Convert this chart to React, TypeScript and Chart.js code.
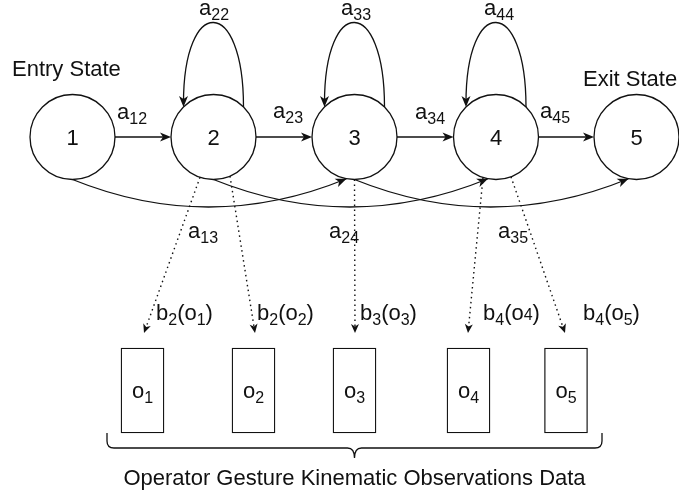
import React, { useEffect, useRef } from 'react';
import { Chart, registerables } from 'chart.js';
Chart.register(...registerables);

// ---------- data ----------
const STATES = ['1', '2', '3', '4', '5'];
const STATE_X = [72.5, 213.5, 354.5, 496, 636.5];
const STATE_Y = 137;

const FORWARD_FROM = [0, 1, 2, 3];
const FORWARD_TO = [1, 2, 3, 4];
const FORWARD_LABELS = ['a_12', 'a_23', 'a_34', 'a_45'];
const FORWARD_LABEL_X = [117, 273, 415, 540];
const FORWARD_LABEL_Y = [119, 118, 119, 118];

const LOOP_STATES = [1, 2, 3];
const LOOP_LABELS = ['a_22', 'a_33', 'a_44'];
const LOOP_LABEL_X = [199, 341, 484];
const LOOP_LABEL_Y = [15, 15, 15];
const LOOP_PEAK_Y = 23;

const SKIP_FROM = [0, 1, 2];
const SKIP_TO = [2, 3, 4];
const SKIP_LABELS = ['a_13', 'a_24', 'a_35'];
const SKIP_LABEL_X = [188, 329, 498];
const SKIP_LABEL_Y = [238, 238, 238];
const SKIP_LOW_Y = 207;

const OBS = ['o_1', 'o_2', 'o_3', 'o_4', 'o_5'];
const OBS_X = [142.5, 253.5, 354.5, 468.5, 566];
const OBS_TOP = 348;
const OBS_BOTTOM = 433;
const OBS_LABEL_Y = 398;

const EMIT_FROM = [1, 1, 2, 3, 3];
const EMIT_START_X = [200, 230, 354.5, 483, 511];
const EMIT_TIP_X = [144, 255, 355, 468, 565];
const EMIT_TIP_Y = 333;
const EMIT_LABELS = ['b_2(o_1)', 'b_2(o_2)', 'b_3(o_3)', 'b_4(o~4)', 'b_4(o_5)'];
const EMIT_LABEL_X = [156, 257, 360, 483, 583];
const EMIT_LABEL_Y = [320, 320, 320, 320, 320];

const ENTRY_TEXT = 'Entry State';
const EXIT_TEXT = 'Exit State';
const CAPTION = 'Operator Gesture Kinematic Observations Data';
const BRACE_LEFT = 107;
const BRACE_RIGHT = 602;
const BRACE_TOP = 433;
const BRACE_Y = 448;
const BRACE_TIP_Y = 458;

// ---------- style ----------
const R = 42.5;
const INK = '#111';
const FONT_FAMILY = "'Liberation Sans', Arial, Helvetica, sans-serif";
const MAIN = 22;
const SUB = 16;
const SUB_DY = 4.5;

type Seg = { t: string; sub: boolean; small: boolean };
function parseRich(s: string): Seg[] {
  const out: Seg[] = [];
  let i = 0;
  let buf = '';
  while (i < s.length) {
    const c = s[i];
    if (c === '_' || c === '~') {
      if (buf) { out.push({ t: buf, sub: false, small: false }); buf = ''; }
      let j = i + 1;
      let d = '';
      while (j < s.length && /[0-9]/.test(s[j])) { d += s[j]; j++; }
      out.push({ t: d, sub: c === '_', small: true });
      i = j;
    } else { buf += c; i++; }
  }
  if (buf) out.push({ t: buf, sub: false, small: false });
  return out;
}
function richWidth(ctx: CanvasRenderingContext2D, s: string) {
  let w = 0;
  for (const seg of parseRich(s)) {
    ctx.font = `${seg.small ? SUB : MAIN}px ${FONT_FAMILY}`;
    w += ctx.measureText(seg.t).width;
  }
  return w;
}
function drawRich(ctx: CanvasRenderingContext2D, s: string, x: number, y: number) {
  let cx = x;
  ctx.textAlign = 'left';
  ctx.textBaseline = 'alphabetic';
  for (const seg of parseRich(s)) {
    ctx.font = `${seg.small ? SUB : MAIN}px ${FONT_FAMILY}`;
    ctx.fillText(seg.t, cx, y + (seg.sub ? SUB_DY : 0));
    cx += ctx.measureText(seg.t).width;
  }
}
function arrowHead(ctx: CanvasRenderingContext2D, tx: number, ty: number, ang: number, len = 11, half = 4.5, notch = 3) {
  const dx = Math.cos(ang), dy = Math.sin(ang);
  const px = -dy, py = dx;
  ctx.beginPath();
  ctx.moveTo(tx, ty);
  ctx.lineTo(tx - len * dx + half * px, ty - len * dy + half * py);
  ctx.lineTo(tx - (len - notch) * dx, ty - (len - notch) * dy);
  ctx.lineTo(tx - len * dx - half * px, ty - len * dy - half * py);
  ctx.closePath();
  ctx.fill();
}

const diagramPlugin = {
  id: 'hmmDiagram',
  afterDatasetsDraw(chart: any) {
    const ctx: CanvasRenderingContext2D = chart.ctx;
    const xs = chart.scales.x, ys = chart.scales.y;
    const X = (v: number) => xs.getPixelForValue(v);
    const Y = (v: number) => ys.getPixelForValue(v);
    ctx.save();
    ctx.strokeStyle = INK;
    ctx.fillStyle = INK;
    ctx.lineWidth = 1.3;
    const onCircle = (i: number, x: number, below: boolean) => {
      const dx = x - STATE_X[i];
      const h = Math.sqrt(Math.max(0, R * R - dx * dx));
      return below ? STATE_Y + h : STATE_Y - h;
    };

    // forward transitions
    FORWARD_FROM.forEach((a, k) => {
      const b = FORWARD_TO[k];
      const x0 = X(STATE_X[a] + R), x1 = X(STATE_X[b] - R), y = Y(STATE_Y);
      ctx.beginPath(); ctx.moveTo(x0, y); ctx.lineTo(x1 - 6, y); ctx.stroke();
      arrowHead(ctx, x1, y, 0);
      drawRich(ctx, FORWARD_LABELS[k], X(FORWARD_LABEL_X[k]), Y(FORWARD_LABEL_Y[k]));
    });

    // self loops
    LOOP_STATES.forEach((s, k) => {
      const cx = STATE_X[s];
      const off = 30;
      const fy = onCircle(s, cx + off, false);
      const c = (8 * LOOP_PEAK_Y - 2 * fy) / 6;
      ctx.beginPath();
      ctx.moveTo(X(cx + off), Y(fy));
      ctx.bezierCurveTo(X(cx + off), Y(c), X(cx - off), Y(c), X(cx - off), Y(fy) - 4);
      ctx.stroke();
      arrowHead(ctx, X(cx - off), Y(fy), Math.PI / 2);
      drawRich(ctx, LOOP_LABELS[k], X(LOOP_LABEL_X[k]), Y(LOOP_LABEL_Y[k]));
    });

    // skip transitions
    SKIP_FROM.forEach((a, k) => {
      const b = SKIP_TO[k];
      const x0 = STATE_X[a], y0 = STATE_Y + R;
      const x2 = STATE_X[b] - 8, y2 = onCircle(b, x2, true);
      const cxp = (x0 + x2) / 2, cyp = 2 * SKIP_LOW_Y - (y0 + y2) / 2;
      ctx.beginPath();
      ctx.moveTo(X(x0), Y(y0));
      ctx.quadraticCurveTo(X(cxp), Y(cyp), X(x2), Y(y2));
      ctx.stroke();
      const ang = Math.atan2(Y(y2) - Y(cyp), X(x2) - X(cxp));
      arrowHead(ctx, X(x2), Y(y2), ang);
      drawRich(ctx, SKIP_LABELS[k], X(SKIP_LABEL_X[k]), Y(SKIP_LABEL_Y[k]));
    });

    // emissions (dotted)
    EMIT_FROM.forEach((s, k) => {
      const x0 = EMIT_START_X[k], y0 = onCircle(s, x0, true);
      const x1 = EMIT_TIP_X[k], y1 = EMIT_TIP_Y;
      const ang = Math.atan2(Y(y1) - Y(y0), X(x1) - X(x0));
      ctx.save();
      ctx.setLineDash([1.5, 3.5]);
      ctx.lineWidth = 1.4;
      ctx.beginPath();
      ctx.moveTo(X(x0), Y(y0));
      ctx.lineTo(X(x1) - 6 * Math.cos(ang), Y(y1) - 6 * Math.sin(ang));
      ctx.stroke();
      ctx.restore();
      arrowHead(ctx, X(x1), Y(y1), ang, 9, 4, 2.5);
      drawRich(ctx, EMIT_LABELS[k], X(EMIT_LABEL_X[k]), Y(EMIT_LABEL_Y[k]));
    });

    // state numbers
    STATES.forEach((s, i) => {
      const w = richWidth(ctx, s);
      drawRich(ctx, s, X(STATE_X[i]) - w / 2, Y(STATE_Y) + 8);
    });
    // observation labels
    OBS.forEach((o, i) => {
      const w = richWidth(ctx, o);
      drawRich(ctx, o, X(OBS_X[i]) - w / 2, Y(OBS_LABEL_Y));
    });

    // entry / exit
    drawRich(ctx, ENTRY_TEXT, X(12), Y(76));
    drawRich(ctx, EXIT_TEXT, X(583), Y(86));

    // brace
    const mid = (BRACE_LEFT + BRACE_RIGHT) / 2;
    ctx.beginPath();
    ctx.moveTo(X(BRACE_LEFT), Y(BRACE_TOP));
    ctx.lineTo(X(BRACE_LEFT), Y(BRACE_Y - 7));
    ctx.quadraticCurveTo(X(BRACE_LEFT), Y(BRACE_Y), X(BRACE_LEFT + 7), Y(BRACE_Y));
    ctx.lineTo(X(mid - 7), Y(BRACE_Y));
    ctx.quadraticCurveTo(X(mid), Y(BRACE_Y), X(mid), Y(BRACE_TIP_Y));
    ctx.quadraticCurveTo(X(mid), Y(BRACE_Y), X(mid + 7), Y(BRACE_Y));
    ctx.lineTo(X(BRACE_RIGHT - 7), Y(BRACE_Y));
    ctx.quadraticCurveTo(X(BRACE_RIGHT), Y(BRACE_Y), X(BRACE_RIGHT), Y(BRACE_Y - 7));
    ctx.lineTo(X(BRACE_RIGHT), Y(BRACE_TOP));
    ctx.stroke();

    const cw = richWidth(ctx, CAPTION);
    drawRich(ctx, CAPTION, X(mid) - cw / 2, Y(485));
    ctx.restore();
  },
};

export default function App() {
  const ref = useRef<HTMLCanvasElement>(null);
  useEffect(() => {
    document.body.style.margin = '0';
    const chart = new Chart(ref.current as HTMLCanvasElement, {
      type: 'scatter',
      data: {
        datasets: [
          {
            type: 'bar',
            data: OBS_X.map((x) => ({ x, y: [OBS_TOP, OBS_BOTTOM] })) as any,
            backgroundColor: '#fff',
            borderColor: INK,
            borderWidth: 1.3,
            borderSkipped: false,
            barThickness: 43,
            clip: false,
          } as any,
          {
            type: 'scatter',
            data: STATE_X.map((x) => ({ x, y: STATE_Y })),
            pointRadius: R,
            pointHoverRadius: R,
            pointBackgroundColor: '#fff',
            pointBorderColor: INK,
            pointBorderWidth: 1.3,
            pointHoverBorderWidth: 1.3,
            clip: false,
          } as any,
        ],
      },
      options: {
        animation: false,
        responsive: true,
        maintainAspectRatio: false,
        events: [],
        layout: { padding: 0, autoPadding: false },
        plugins: { legend: { display: false }, tooltip: { enabled: false } },
        scales: {
          x: { type: 'linear', min: 0, max: 679, display: false, offset: false },
          y: { type: 'linear', min: 0, max: 495, reverse: true, display: false, offset: false },
        },
      } as any,
      plugins: [diagramPlugin],
    });
    return () => chart.destroy();
  }, []);
  return (
    <div style={{ width: 679, height: 495, position: 'relative' }}>
      <canvas ref={ref} />
    </div>
  );
}
